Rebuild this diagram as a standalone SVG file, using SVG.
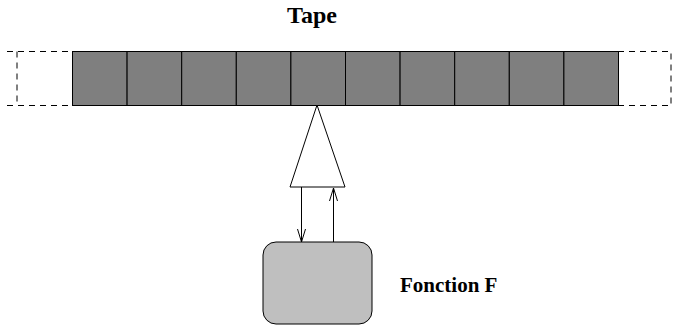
<svg xmlns="http://www.w3.org/2000/svg" width="675" height="326" viewBox="0 0 675 326">
<defs>
<style>
.cell{fill:#7f7f7f;stroke:#000;stroke-width:1}
.dash{fill:none;stroke:#000;stroke-width:1;stroke-dasharray:6,5}
.line{fill:none;stroke:#000;stroke-width:1}
.lbl{font-family:"Liberation Serif",serif;font-weight:bold;fill:#000}
</style>
<marker id="ah" markerWidth="14" markerHeight="10" refX="13" refY="5" orient="auto" markerUnits="userSpaceOnUse" viewBox="0 0 14 10">
<path d="M0,1 L13,5 L0,9" fill="none" stroke="#000" stroke-width="1"/>
</marker>
</defs>
<rect width="675" height="326" fill="#fff"/>
<g id="tape">
<text class="lbl" x="312" y="23" font-size="24" text-anchor="middle">Tape</text>
<path class="dash" d="M7,51.5 H72 M17,51.5 V105.5 M7,105.5 H72"/>
<path class="dash" d="M618,51.5 H671 V105.5 H618"/>
<rect class="cell" x="72.5" y="51.5" width="54.6" height="54"/>
<rect class="cell" x="127.1" y="51.5" width="54.6" height="54"/>
<rect class="cell" x="181.7" y="51.5" width="54.6" height="54"/>
<rect class="cell" x="236.3" y="51.5" width="54.6" height="54"/>
<rect class="cell" x="290.9" y="51.5" width="54.6" height="54"/>
<rect class="cell" x="345.5" y="51.5" width="54.6" height="54"/>
<rect class="cell" x="400.1" y="51.5" width="54.6" height="54"/>
<rect class="cell" x="454.7" y="51.5" width="54.6" height="54"/>
<rect class="cell" x="509.3" y="51.5" width="54.6" height="54"/>
<rect class="cell" x="563.9" y="51.5" width="54.6" height="54"/>
</g>
<g id="head">
<polygon points="317,105 290,187 345,187" fill="#fff" stroke="#000" stroke-width="1"/>
</g>
<g id="fonction">
<rect x="263" y="242" width="109" height="82" rx="13" ry="13" fill="#bfbfbf" stroke="#000" stroke-width="1"/>
<text class="lbl" x="400" y="292" font-size="21">Fonction F</text>
</g>
<g id="connectors">
<line class="line" x1="301.5" y1="187" x2="301.5" y2="242" marker-end="url(#ah)"/>
<line class="line" x1="333.5" y1="242" x2="333.5" y2="188" marker-end="url(#ah)"/>
</g>
</svg>
